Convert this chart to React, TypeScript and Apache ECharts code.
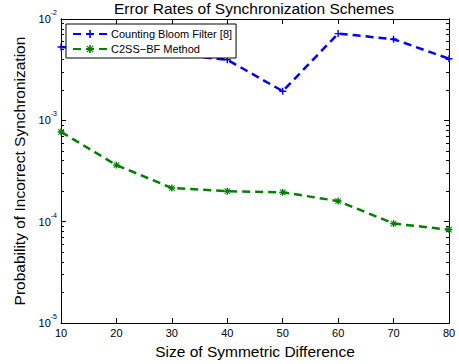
import React, { useEffect, useRef } from "react";
import * as echarts from "echarts";

const xValues = [10, 20, 30, 40, 50, 60, 70, 80];
const countingBloom = [5.3e-3, 4.9e-3, 4.5e-3, 3.96e-3, 1.94e-3, 7.18e-3, 6.32e-3, 4.06e-3];
const c2ssBf = [7.7e-4, 3.62e-4, 2.15e-4, 2.0e-4, 1.95e-4, 1.6e-4, 9.6e-5, 8.35e-5];
const majorY = [1e-5, 1e-4, 1e-3, 1e-2];
const minorMult = [2, 3, 4, 5, 6, 7, 8, 9];

const FONT = "Liberation Sans, Arial, Helvetica, sans-serif";
const PLUS = "path://M4,0H6V4H10V6H6V10H4V6H0V4H4Z";
const STAR = "path://M4,0H6V10H4Z M0,4H10V6H0Z M1.5,0.5L9.5,8.5L8.5,9.5L0.5,1.5Z M8.5,0.5L9.5,1.5L1.5,9.5L0.5,8.5Z";

export default function App() {
  const ref = useRef<HTMLDivElement>(null);
  useEffect(() => {
    if (!ref.current) return;
    const chart = echarts.init(ref.current, undefined, { renderer: "svg" });
    const minorY: number[] = [];
    majorY.slice(0, 3).forEach((m) => minorMult.forEach((k) => minorY.push(m * k)));
    const yBase = {
      type: "log" as const,
      logBase: 10,
      min: 1e-5,
      max: 1e-2,
      splitLine: { show: false },
      axisLine: { show: true, lineStyle: { color: "#000", width: 1 } },
    };
    const majorTick = { show: true, inside: true, length: 5, lineStyle: { color: "#000" }, customValues: majorY };
    const minorTick = { show: true, inside: true, length: 3, lineStyle: { color: "#000" }, customValues: minorY };
    chart.setOption({
      animation: false,
      textStyle: { fontFamily: FONT },
      title: {
        text: "Error Rates of Synchronization Schemes",
        left: 254,
        textAlign: "center",
        top: 0,
        padding: 0,
        textStyle: { fontFamily: FONT, fontSize: 15.5, fontWeight: "normal", color: "#000" },
      },
      legend: {
        orient: "vertical",
        left: 66,
        top: 24,
        padding: [4, 4, 3, 6],
        itemGap: 3,
        itemWidth: 34,
        itemHeight: 10,
        borderColor: "#000",
        borderWidth: 1,
        backgroundColor: "#fff",
        textStyle: { fontFamily: FONT, fontSize: 11, color: "#000", padding: [0, 0, 0, -1], lineHeight: 12 },
        data: ["Counting Bloom Filter [8]", "C2SS\u2212BF Method"],
      },
      grid: { left: 61, right: 10, top: 19, bottom: 39 },
      xAxis: [
        {
          type: "value",
          min: 10,
          max: 80,
          interval: 10,
          position: "bottom",
          name: "Size of Symmetric Difference",
          nameLocation: "middle",
          nameGap: 18,
          nameTextStyle: { fontFamily: FONT, fontSize: 15.5, color: "#000", verticalAlign: "top" },
          splitLine: { show: false },
          axisLine: { show: true, onZero: false, lineStyle: { color: "#000" } },
          axisTick: { show: true, inside: true, length: 5, lineStyle: { color: "#000" } },
          axisLabel: { color: "#000", fontSize: 11, fontFamily: FONT, margin: 4 },
        },
        {
          type: "value",
          min: 10,
          max: 80,
          interval: 10,
          position: "top",
          splitLine: { show: false },
          axisLine: { show: true, onZero: false, lineStyle: { color: "#000" } },
          axisTick: { show: true, inside: true, length: 5, lineStyle: { color: "#000" } },
          axisLabel: { show: false },
        },
      ],
      yAxis: [
        {
          ...yBase,
          position: "left",
          name: "Probability of Incorrect Synchronization",
          nameLocation: "middle",
          nameGap: 29,
          nameTextStyle: { fontFamily: FONT, fontSize: 15.5, color: "#000" },
          axisTick: majorTick,
          axisLabel: {
            show: true,
            margin: 4,
            customValues: majorY,
            formatter: (v: number) => `{b|10}{s|${Math.round(Math.log10(v))}}`,
            rich: {
              b: { fontSize: 11, fontFamily: FONT, color: "#000", lineHeight: 20 },
              s: { fontSize: 7, fontFamily: FONT, color: "#000", lineHeight: 6, verticalAlign: "top" },
            },
          },
        },
        { ...yBase, position: "left", axisTick: minorTick, axisLabel: { show: false } },
        { ...yBase, position: "right", axisTick: majorTick, axisLabel: { show: false } },
        { ...yBase, position: "right", axisTick: minorTick, axisLabel: { show: false } },
      ],
      series: [
        {
          name: "Counting Bloom Filter [8]",
          type: "line",
          data: xValues.map((x, i) => [x, countingBloom[i]]),
          symbol: PLUS,
          symbolSize: 7,
          color: "#0000ff",
          itemStyle: { color: "#0000ff" },
          lineStyle: { color: "#0000ff", width: 2.5, type: [8, 5] },
          z: 3,
        },
        {
          name: "C2SS\u2212BF Method",
          type: "line",
          data: xValues.map((x, i) => [x, c2ssBf[i]]),
          symbol: STAR,
          symbolSize: 7,
          color: "#008000",
          itemStyle: { color: "#008000" },
          lineStyle: { color: "#008000", width: 2.5, type: [8, 5] },
          z: 3,
        },
      ],
    });
    return () => chart.dispose();
  }, []);
  return <div ref={ref} style={{ width: 459, height: 364, position: "fixed", left: 0, top: 0, background: "#fff" }} />;
}
